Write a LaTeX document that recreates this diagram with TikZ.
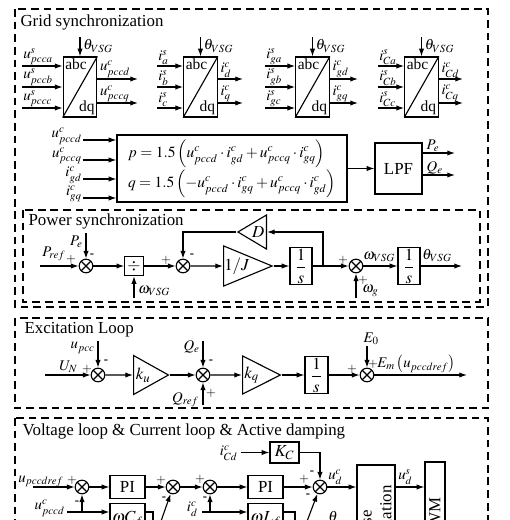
\documentclass[tikz,border=0pt]{standalone}
\usepackage{mathptmx}
\usepackage{fontspec}
\setmainfont{Liberation Serif}
\usetikzlibrary{arrows.meta,shapes.geometric,positioning}

\tikzset{
  box/.style={draw, rectangle, inner sep=1pt},
  sumnode/.style={circle, draw, minimum size=3.4mm, inner sep=0pt,
    path picture={\draw (path picture bounding box.north west) -- (path picture bounding box.south east)
      (path picture bounding box.north east) -- (path picture bounding box.south west);}},
  gain/.style={isosceles triangle, draw, isosceles triangle stretches, inner sep=0.5pt},
  frame/.style={draw, dash pattern=on 5.5pt off 3.5pt},
  sgn/.style={font=\fontsize{9}{10}\selectfont, inner sep=0pt},
  lbl/.style={font=\fontsize{10.5}{12}\selectfont, inner sep=0.5pt}
}

\begin{document}
\begin{tikzpicture}[x=0.25mm, y=-0.25mm, line width=0.8pt,
    >={Latex[length=5.5pt,width=3.8pt]},
    every node/.style={font=\fontsize{12}{14}\selectfont}]
  \clip (0,0) rectangle (510,520);

  % grid synchronization
  \draw[frame] (15,9) rectangle (488,307);
  \node[anchor=north west, inner sep=0pt] at (20,14) {Grid synchronization};

  \foreach \n/\cx/\lx/\rx/\ia/\ib/\ic/\od/\oq in {
      1/80/22/138/{u^s_{pcca}}/{u^s_{pccb}}/{u^s_{pccc}}/{u^c_{pccd}}/{u^c_{pccq}},
      2/200.5/157/243/{i^s_{a}}/{i^s_{b}}/{i^s_{c}}/{i^c_{d}}/{i^c_{q}},
      3/312.5/265/358/{i^s_{ga}}/{i^s_{gb}}/{i^s_{gc}}/{i^c_{gd}}/{i^c_{gq}},
      4/421.5/378/463/{i^s_{Ca}}/{i^s_{Cb}}/{i^s_{Cc}}/{i^c_{Cd}}/{i^c_{Cq}}} {
    \node[box, minimum width=8.4mm, minimum height=15mm] (t\n) at (\cx,87) {};
    \draw (t\n.south west) -- (t\n.north east);
    \node[lbl, font=\fontsize{11}{12}\selectfont, anchor=north west, inner sep=1.5pt] at (t\n.north west) {abc};
    \node[lbl, font=\fontsize{11}{12}\selectfont, anchor=south east, inner sep=1.5pt] at (t\n.south east) {dq};
    \coordinate (th\n) at (\cx,37);
    \draw[->] (th\n) -- (t\n.north);
    \node[lbl, anchor=west] at (\cx+2,46) {$\theta_{VSG}$};
    \foreach \k/\y/\lab in {a/66/\ia, b/87/\ib, c/108/\ic} {
      \coordinate (i\n\k) at (\lx,\y);
      \draw[->] (i\n\k) -- (i\n\k -| t\n.west);
      \node[lbl, anchor=south west] at (i\n\k) {$\lab$};
    }
    \foreach \k/\y/\lab in {d/79/\od, q/103/\oq} {
      \coordinate (o\n\k) at (\rx,\y);
      \draw[->] (o\n\k -| t\n.east) -- (o\n\k);
      \path (o\n\k -| t\n.east) node[lbl, anchor=south west, xshift=1pt] {$\lab$};
    }
  }

  \node[box, minimum width=57.5mm, minimum height=16.75mm, font=\fontsize{11}{13}\selectfont] (pq) at (232,168.5)
    {$\begin{array}{@{}l@{}}
      p=1.5\left(u^c_{pccd}\cdot i^c_{gd}+u^c_{pccq}\cdot i^c_{gq}\right)\\[5pt]
      q=1.5\left(-u^c_{pccd}\cdot i^c_{gq}+u^c_{pccq}\cdot i^c_{gd}\right)
    \end{array}$};
  \foreach \k/\y/\lab in {1/140/{u^c_{pccd}}, 2/160/{u^c_{pccq}}, 3/179/{i^c_{gd}}, 4/198/{i^c_{gq}}} {
    \coordinate (f\k) at (83,\y);
    \draw[->] (f\k) -- (f\k -| pq.west);
    \node[lbl, anchor=east, yshift=3pt] at (f\k) {$\lab$};
  }
  \node[box, minimum width=11.75mm, minimum height=12.75mm] (lpf) at (398.5,168.5) {LPF};
  \draw[->] (pq) -- (lpf);
  \coordinate (lpfP) at (455,153);
  \coordinate (lpfQ) at (455,175);
  \draw[->] (lpf.east |- lpfP) -- (lpfP);
  \draw[->] (lpf.east |- lpfQ) -- (lpfQ);
  \path (lpf.east |- lpfP) node[lbl, anchor=south west, xshift=2pt] {$P_e$};
  \path (lpf.east |- lpfQ) node[lbl, anchor=south west, xshift=2pt] {$Q_e$};

  % power synchronization
  \draw[frame] (23,210) rectangle (480,302);
  \node[anchor=north west, inner sep=0pt] at (28,213) {Power synchronization};

  \coordinate (pref) at (40,266);
  \node[sumnode] (s1) at (86,266) {};
  \coordinate (pein) at (86,233);
  \node[box, minimum width=4.6mm, minimum height=4.8mm] (div) at (134,266) {$\div$};
  \coordinate (wv) at (134,298);
  \node[sumnode] (s2) at (183,266) {};
  \node[gain, shape border rotate=180, minimum width=8.5mm, minimum height=5.75mm,
    anchor=lower side] (D) at (267,232) {$D$};
  \node[gain, minimum width=9.25mm, minimum height=7.75mm, anchor=lower side] (J) at (223,266) {$1/J$};
  \node[box, minimum width=5.5mm, minimum height=8.5mm] (int1) at (301,266) {$\displaystyle\frac{1}{s}$};
  \coordinate (jn) at (323,266);
  \node[sumnode] (s3) at (356,266) {};
  \coordinate (wg) at (356,298);
  \node[box, minimum width=5.5mm, minimum height=8.5mm] (int2) at (409,266) {$\displaystyle\frac{1}{s}$};
  \coordinate (thout) at (462,266);

  \draw[->] (pref) -- (s1);
  \draw[->] (pein) -- (s1);
  \draw[->] (s1) -- (div);
  \draw[->] (wv) -- (div);
  \draw[->] (div) -- (s2);
  \draw[->] (s2) -- (J);
  \draw[->] (J.apex) -- (int1);
  \draw[->] (int1) -- (s3);
  \draw[->] (jn) |- (D);
  \draw[->] (D.apex) -| (s2);
  \draw[->] (wg) -- (s3);
  \draw[->] (s3) -- (int2);
  \draw[->] (int2) -- (thout);

  \node[lbl, anchor=south west] at (41,262) {$P_{ref}$};
  \node[sgn] at (71,259) {$+$};
  \node[lbl, anchor=east] at (84,242) {$P_e$};
  \node[sgn] at (92,256) {\textbf{-}};
  \node[lbl, anchor=west] at (137,291) {$\omega_{VSG}$};
  \node[sgn] at (166,260) {$+$};
  \node[sgn] at (192,256) {\textbf{-}};
  \node[sgn] at (343,260) {$+$};
  \node[sgn] at (363,280) {$+$};
  \node[lbl, anchor=south west] at (362,263) {$\omega_{VSG}$};
  \node[lbl, anchor=west] at (361,291) {$\omega_g$};
  \node[lbl, anchor=south west] at (421,263) {$\theta_{VSG}$};

  % excitation loop
  \draw[frame] (15,318) rectangle (488,408);
  \node[anchor=north west, inner sep=0pt] at (24,322) {Excitation Loop};

  \coordinate (un) at (45,375);
  \node[sumnode] (e1) at (98,375) {};
  \coordinate (upcc) at (98,341);
  \node[gain, minimum width=9.75mm, minimum height=8mm, anchor=lower side] (ku) at (133,375) {$k_u$};
  \node[sumnode] (e2) at (203,375) {};
  \coordinate (qe) at (203,341);
  \coordinate (qref) at (203,405);
  \node[gain, minimum width=9.5mm, minimum height=8mm, anchor=lower side] (kq) at (242,375) {$k_q$};
  \node[box, minimum width=5.75mm, minimum height=9mm] (int3) at (316.5,375) {$\displaystyle\frac{1}{s}$};
  \node[sumnode] (e3) at (367,375) {};
  \coordinate (e0) at (367,346);
  \coordinate (emout) at (467,375);

  \draw[->] (un) -- (e1);
  \draw[->] (upcc) -- (e1);
  \draw[->] (e1) -- (ku);
  \draw[->] (ku.apex) -- (e2);
  \draw[->] (qe) -- (e2);
  \draw[->] (qref) -- (e2);
  \draw[->] (e2) -- (kq);
  \draw[->] (kq.apex) -- (int3);
  \draw[->] (int3) -- (e3);
  \draw[->] (e0) -- (e3);
  \draw[->] (e3) -- (emout);

  \node[lbl, anchor=south west] at (58,374) {$U_N$};
  \node[sgn] at (87,369) {$+$};
  \node[lbl, anchor=east] at (96,348) {$u_{pcc}$};
  \node[sgn] at (106,362) {\textbf{-}};
  \node[lbl, anchor=east] at (201,347) {$Q_e$};
  \node[sgn] at (211,362) {\textbf{-}};
  \node[lbl, anchor=east] at (200,400) {$Q_{ref}$};
  \node[sgn] at (211,393) {$+$};
  \node[lbl, above=0pt of e0, xshift=3pt] {$E_0$};
  \node[sgn] at (352,369) {$+$};
  \node[sgn] at (373,364) {$+$};
  \node[lbl, anchor=south west] at (376,374) {$E_m\left(u_{pccdref}\right)$};

  % voltage loop, current loop, active damping
  \draw[frame] (15,418) rectangle (488,620);
  \node[anchor=north west, inner sep=0pt] at (22,423) {Voltage loop \& Current loop \& Active damping};

  \coordinate (upr) at (33,487);
  \node[sumnode] (v1) at (82,487) {};
  \node[box, minimum width=8.75mm, minimum height=5.75mm] (pi1) at (127.5,487) {PI};
  \node[sumnode] (v2) at (173,487) {};
  \node[sumnode] (v3) at (210,487) {};
  \node[box, minimum width=8.75mm, minimum height=5.75mm] (pi2) at (265.5,487) {PI};
  \node[sumnode] (v4) at (320,487) {};
  \node[box, minimum width=7.25mm, minimum height=5.25mm] (kc) at (284.5,452.5) {$K_C$};
  \coordinate (icd) at (241,452.5);
  \node[box, minimum width=9.5mm, minimum height=35mm] (ct) at (376,535) {};
  \node[rotate=90, align=center, inner sep=0pt] at (ct) {Inverse\\transformation};
  \node[box, minimum width=5mm, minimum height=28mm] (pwm) at (435,518) {};
  \node[rotate=90, inner sep=0pt] at (pwm) {PWM};

  \coordinate (upd) at (67,512);
  \coordinate (jv1) at (82,512);
  \node[box, minimum width=8.75mm, minimum height=8mm, anchor=north] (wc) at (127.5,503) {$\omega C_f$};
  \coordinate (wcd) at (153,540);
  \coordinate (dg2) at (160,524);
  \coordinate (icdin) at (202,512);
  \coordinate (jv3) at (210,512);
  \node[box, minimum width=8.75mm, minimum height=8mm, anchor=north] (wl) at (265.5,503) {$\omega L_f$};
  \coordinate (wld) at (295,540);
  \coordinate (dg4) at (306,524);

  \draw[->] (upr) -- (v1);
  \draw[->] (v1) -- (pi1);
  \draw[->] (pi1) -- (v2);
  \draw[->] (v2) -- (v3);
  \draw[->] (v3) -- (pi2);
  \draw[->] (pi2) -- (v4);
  \draw[->] (icd) -- (kc);
  \draw[->] (kc) -| (v4);
  \draw[->] (v4) -- (v4 -| ct.west);
  \draw[->] (ct.east |- v4) -- (pwm.west |- v4);
  \draw[->] (upd) -- (upd -| wc.west);
  \draw[->] (jv1) -- (v1);
  \draw (wc.east |- upd) -| (wcd);
  \draw[->] (dg2) -- (v2);
  \draw[->] (icdin) -- (icdin -| wl.west);
  \draw[->] (jv3) -- (v3);
  \draw (wl.east |- icdin) -| (wld);
  \draw[->] (dg4) -- (v4);

  \node[lbl, anchor=south west] at (17,488) {$u_{pccdref}$};
  \node[sgn] at (72,480) {$+$};
  \node[sgn] at (77,503) {\textbf{-}};
  \node[sgn] at (161,480) {$+$};
  \node[sgn] at (164,499) {\textbf{-}};
  \node[sgn] at (200,479) {$+$};
  \node[sgn] at (205,499) {\textbf{-}};
  \node[sgn] at (304,479) {$+$};
  \node[sgn] at (312,473) {\textbf{-}};
  \node[sgn] at (308,496) {\textbf{-}};
  \node[lbl, anchor=east] at (239,453) {$i^c_{Cd}$};
  \node[lbl, anchor=south west] at (327,486) {$u^c_d$};
  \node[lbl, anchor=south west] at (397,486) {$u^s_d$};
  \node[lbl, anchor=east] at (66,508) {$u^c_{pccd}$};
  \node[lbl, anchor=east] at (199,509) {$i^c_d$};
  \node[lbl, anchor=north west] at (327,510) {$\theta$};
\end{tikzpicture}
\end{document}
